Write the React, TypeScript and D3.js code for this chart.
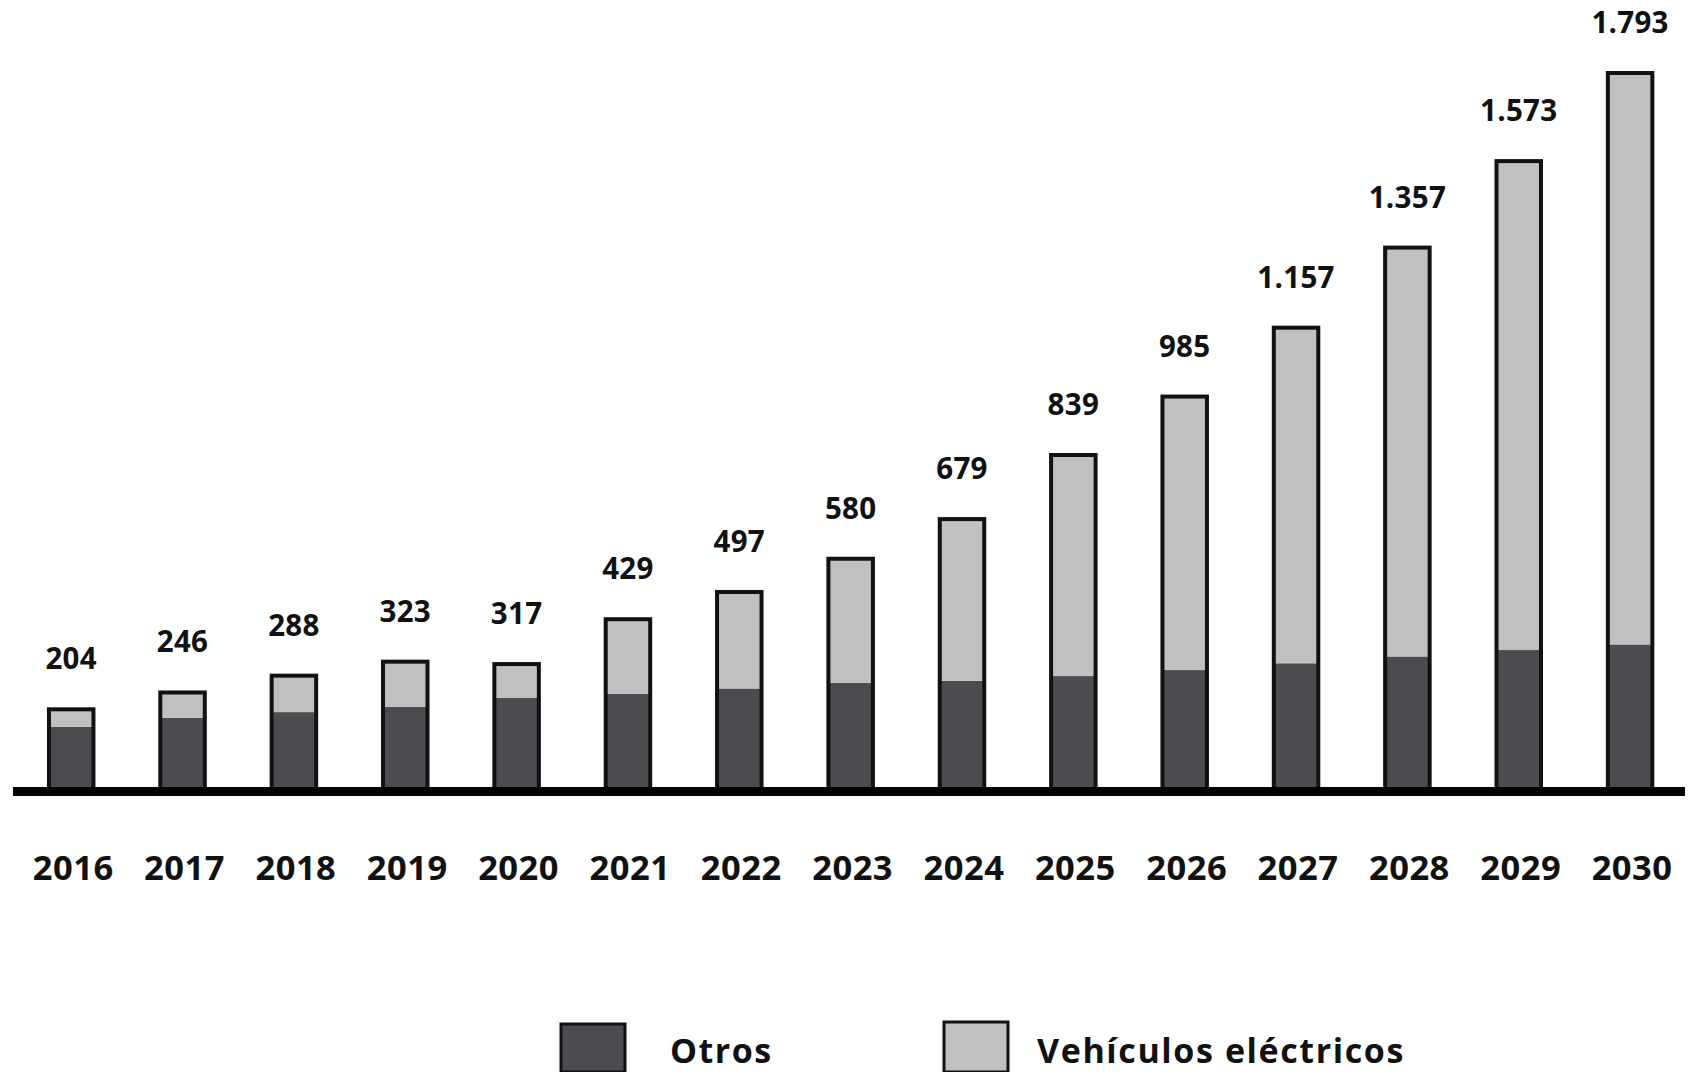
import React from "react";
import * as d3 from "d3";

const years = ["2016","2017","2018","2019","2020","2021","2022","2023","2024","2025","2026","2027","2028","2029","2030"];
const totals = [204,246,288,323,317,429,497,580,679,839,985,1157,1357,1573,1793];
const otros = [160,183,197,210,233,243,256,270,275,287,302,319,336,352,366];
const totalLabels = ["204","246","288","323","317","429","497","580","679","839","985","1.157","1.357","1.573","1.793"];
const seriesNames = ["Otros","Vehículos eléctricos"];
const seriesColors = ["#4a4c4f","#c0c0c0"];

const W = 1688, H = 1072;
const FONT = "'Open Sans', 'DejaVu Sans', sans-serif";

export default function App() {
  const x = d3.scalePoint<string>().domain(years).range([71.2, 1630.1]);
  const y = d3.scaleLinear().domain([0, 1793]).range([791, 73]);
  const bw = 44.5;
  const stroke = "#111";

  return (
    <svg width={W} height={H} style={{ position: "absolute", left: 0, top: 0, background: "#fff" }}>
      <rect x={0} y={0} width={W} height={H} fill="#fff" />
      {years.map((yr, i) => {
        const cx = x(yr)!;
        return (
          <g key={yr}>
            <rect x={cx - bw / 2} y={y(otros[i])} width={bw} height={y(0) - y(otros[i])} fill={seriesColors[0]} />
            <rect x={cx - bw / 2} y={y(totals[i])} width={bw} height={y(otros[i]) - y(totals[i])} fill={seriesColors[1]} />
            <rect x={cx - bw / 2} y={y(totals[i])} width={bw} height={y(0) - y(totals[i])} fill="none" stroke={stroke} strokeWidth={4} />
            <text x={cx} y={y(totals[i]) - 40} textAnchor="middle" fontFamily={FONT} fontWeight={700} fontSize={29.5} letterSpacing={0.3} fill="#111">
              {totalLabels[i]}
            </text>
            <text x={cx + 2} y={880} textAnchor="middle" fontFamily={FONT} fontWeight={700} fontSize={34.5} letterSpacing={0.5} fill="#111">
              {yr}
            </text>
          </g>
        );
      })}
      <line x1={13} x2={1685} y1={791.5} y2={791.5} stroke="#000" strokeWidth={9} />
      <g>
        <rect x={561} y={1024} width={64} height={48} fill={seriesColors[0]} stroke={stroke} strokeWidth={3} />
        <text x={670} y={1063} fontFamily={FONT} fontWeight={700} fontSize={34} letterSpacing={1.5} fill="#111">{seriesNames[0]}</text>
        <rect x={944} y={1022} width={64} height={50} fill={seriesColors[1]} stroke={stroke} strokeWidth={3} />
        <text x={1037} y={1063} fontFamily={FONT} fontWeight={700} fontSize={34} letterSpacing={1.6} fill="#111">{seriesNames[1]}</text>
      </g>
    </svg>
  );
}
